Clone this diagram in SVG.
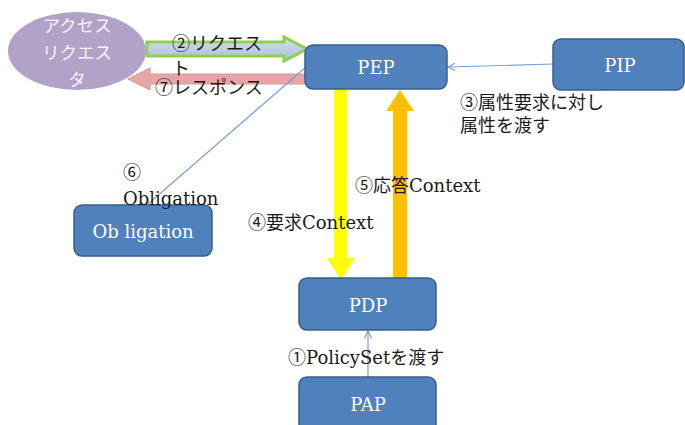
<svg xmlns="http://www.w3.org/2000/svg" width="685" height="425" viewBox="0 0 685 425">
  <defs>
    <style>
      .box { fill: #4f81bd; stroke: #385d8a; stroke-width: 1.5; }
      .boxlabel { font-family: "DejaVu Serif", "Noto Sans CJK JP", serif; font-size: 18px; fill: #ffffff; text-anchor: middle; dominant-baseline: central; }
      .ell { font-family: "Noto Sans CJK JP", sans-serif; font-size: 17.5px; fill: #f6f2fa; text-anchor: middle; dominant-baseline: central; }
      .label { font-family: "DejaVu Serif", "Noto Sans CJK JP", serif; font-size: 18px; fill: #1a1a1a; dominant-baseline: central; }
      .thin { fill: none; stroke: #7ba0d4; stroke-width: 1.2; }
    </style>
    <linearGradient id="reqFill" x1="0" y1="0" x2="0" y2="1">
      <stop offset="0" stop-color="#d6e0ee"/>
      <stop offset="1" stop-color="#a9bcd8"/>
    </linearGradient>
    <marker id="openHead" viewBox="0 0 10 10" refX="9" refY="5" markerWidth="9" markerHeight="9" orient="auto" markerUnits="userSpaceOnUse">
      <path d="M1,1 L9,5 L1,9" fill="none" stroke="#7ba0d4" stroke-width="1.3"/>
    </marker>
  </defs>

  <!-- connectors -->
  <g id="connectors">
    <!-- request: requester -> PEP -->
    <path d="M147,42 L284,42 L284,37 L307,49 L284,61 L284,56 L147,56 Z" fill="url(#reqFill)" stroke="#8fd14f" stroke-width="3" stroke-linejoin="miter"/>
    <!-- response: PEP -> requester -->
    <path d="M306,74 L150,74 L150,68 L128,79 L150,90 L150,84 L306,84 Z" fill="#e6a6a6" stroke="#d99594" stroke-width="1"/>
    <!-- PIP -> PEP -->
    <line class="thin" x1="553" y1="64" x2="448" y2="67" marker-end="url(#openHead)"/>
    <!-- PEP -> Obligation -->
    <line class="thin" x1="306" y1="67" x2="148" y2="204"/>
    <!-- request context: PEP -> PDP -->
    <path d="M334,89 L347,89 L347,258 L355,258 L341,280 L327,258 L334,258 Z" fill="#ffff00"/>
    <!-- response context: PDP -> PEP -->
    <path d="M393,279 L407,279 L407,111 L414,111 L400,90 L386,111 L393,111 Z" fill="#ffc000"/>
    <!-- PAP -> PDP -->
    <line class="thin" x1="368" y1="377" x2="368" y2="331" marker-end="url(#openHead)"/>
  </g>

  <!-- access requester -->
  <g id="requester">
    <ellipse cx="77" cy="51" rx="69" ry="39" fill="#b3a2c7"/>
    <text class="ell" x="77" y="24">アクセス</text>
    <text class="ell" x="77" y="51">リクエス</text>
    <text class="ell" x="77" y="78">タ</text>
  </g>

  <g id="pep">
    <rect class="box" x="305" y="45" width="142" height="44" rx="8"/>
    <text class="boxlabel" x="376" y="67">PEP</text>
  </g>

  <g id="pip">
    <rect class="box" x="553" y="39" width="131" height="51" rx="8"/>
    <text class="boxlabel" x="620" y="65">PIP</text>
  </g>

  <g id="obligation">
    <rect class="box" x="74" y="205" width="138" height="51" rx="8"/>
    <text class="boxlabel" x="143" y="231">Ob ligation</text>
  </g>

  <g id="pdp">
    <rect class="box" x="299" y="278" width="137" height="52" rx="8"/>
    <text class="boxlabel" x="368" y="305">PDP</text>
  </g>

  <g id="pap">
    <rect class="box" x="299" y="377" width="137" height="55" rx="8"/>
    <text class="boxlabel" x="368" y="404">PAP</text>
  </g>

  <!-- step labels -->
  <g id="labels">
    <text class="label" x="172" y="43">②リクエス</text>
    <text class="label" x="172" y="68">ト</text>
    <text class="label" x="155" y="87">⑦レスポンス</text>
    <text class="label" x="460" y="102">③属性要求に対し</text>
    <text class="label" x="460" y="125">属性を渡す</text>
    <text class="label" x="123" y="172">⑥</text>
    <text class="label" x="123" y="198">Obligation</text>
    <text class="label" x="355" y="185">⑤応答Context</text>
    <text class="label" x="248" y="222">④要求Context</text>
    <text class="label" x="288" y="357">①PolicySetを渡す</text>
  </g>
</svg>
